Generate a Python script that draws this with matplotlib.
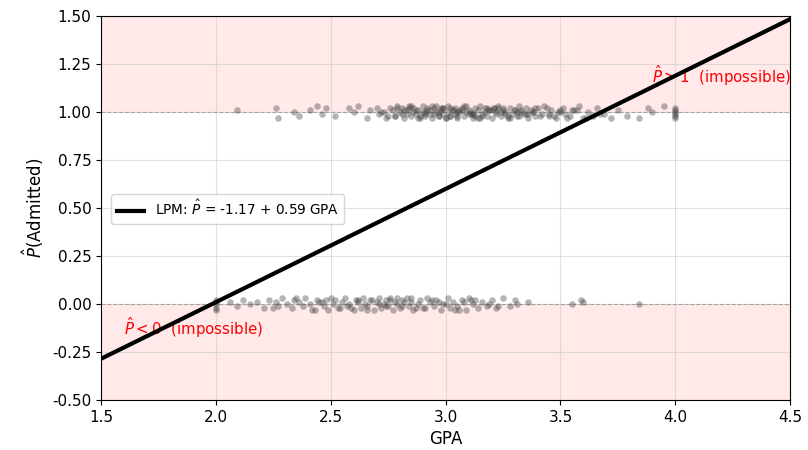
import matplotlib
matplotlib.use("Agg")
import matplotlib.pyplot as plt
import numpy as np

# Linear probability model coefficients
intercept = -1.17
slope = 0.59

# Admitted students (GPA, jittered plotted value)
adm_gpa = [2.09, 2.26, 2.27, 2.34, 2.36, 2.41, 2.44, 2.46, 2.48, 2.52,
           2.58, 2.60, 2.62, 2.66, 2.67, 2.70, 2.71, 2.73, 2.74, 2.76,
           2.77, 2.78, 2.79, 2.80, 2.81, 2.81, 2.82, 2.83, 2.84, 2.85,
           2.86, 2.86, 2.87, 2.88, 2.89, 2.90, 2.90, 2.91, 2.92, 2.93,
           2.93, 2.94, 2.95, 2.96, 2.96, 2.97, 2.98, 2.99, 2.99, 3.00,
           3.01, 3.01, 3.02, 3.03, 3.04, 3.04, 3.05, 3.06, 3.07, 3.07,
           3.08, 3.09, 3.10, 3.10, 3.11, 3.12, 3.13, 3.13, 3.14, 3.15,
           3.16, 3.17, 3.17, 3.18, 3.19, 3.20, 3.21, 3.22, 3.22, 3.23,
           3.24, 3.25, 3.26, 3.27, 3.28, 3.29, 3.30, 3.31, 3.32, 3.33,
           3.34, 3.35, 3.36, 3.37, 3.38, 3.39, 3.40, 3.42, 3.43, 3.45,
           3.46, 3.48, 3.49, 3.51, 3.52, 3.54, 3.56, 3.58, 3.60, 3.62,
           3.64, 3.66, 3.69, 3.72, 3.75, 3.79, 3.84, 3.88, 3.90, 3.95,
           4.00, 4.00, 4.00, 4.00, 4.00, 4.00, 2.72, 2.78, 2.84, 2.88,
           2.92, 2.95, 2.98, 3.02, 3.05, 3.08, 3.12, 3.15, 3.19, 3.23,
           3.27, 3.31, 3.35, 3.44, 3.53, 3.57, 2.85, 2.91, 2.97, 3.03,
           3.09, 3.14, 3.21, 3.26, 3.33, 3.41, 2.79, 2.83, 2.87, 2.89,
           2.94, 2.97, 3.00, 3.02, 3.06, 3.11, 3.16, 3.18, 3.24, 3.28,
           3.30, 3.36, 3.39, 3.47, 3.50, 3.55, 3.61, 3.67, 2.75, 2.82,
           2.91, 2.99, 3.05, 3.12, 3.20, 3.25, 3.32, 3.38, 3.45, 3.50]
adm_y = [1.01, 1.02, 0.97, 1.00, 0.98, 1.01, 1.03, 0.99, 1.02, 0.98,
         1.02, 1.00, 1.03, 0.97, 1.01, 1.02, 0.99, 1.00, 0.97, 1.02,
         1.01, 0.98, 1.03, 1.00, 0.99, 1.02, 0.97, 1.01, 1.03, 0.98,
         1.00, 1.02, 0.99, 1.01, 0.97, 1.03, 1.00, 0.98, 1.02, 1.01,
         0.99, 0.97, 1.02, 1.00, 1.03, 0.98, 1.01, 0.99, 1.02, 0.97,
         1.00, 1.03, 0.98, 1.01, 1.02, 0.99, 0.97, 1.00, 1.02, 1.01,
         0.98, 1.03, 0.99, 1.01, 1.00, 0.97, 1.02, 0.98, 1.01, 1.03,
         0.99, 1.00, 1.02, 0.98, 1.01, 0.97, 1.02, 1.00, 0.99, 1.03,
         0.98, 1.01, 1.00, 0.97, 1.02, 0.99, 1.01, 0.98, 1.03, 1.00,
         0.99, 1.02, 0.97, 1.01, 1.00, 0.98, 1.02, 0.99, 1.03, 0.98,
         1.01, 0.97, 1.00, 1.02, 0.99, 0.98, 1.01, 1.03, 0.97, 1.00,
         0.98, 1.02, 0.99, 0.97, 1.01, 0.98, 0.97, 1.02, 1.00, 1.03,
         0.98, 1.00, 1.02, 0.99, 1.01, 0.97, 1.00, 0.98, 1.02, 0.97,
         1.01, 0.99, 1.02, 0.98, 1.00, 1.03, 0.99, 0.97, 1.01, 1.02,
         0.98, 1.00, 0.99, 1.02, 0.97, 1.01, 1.03, 0.99, 0.98, 1.01,
         1.00, 0.97, 1.02, 0.99, 1.01, 0.98, 1.02, 0.99, 1.01, 0.98,
         1.03, 1.00, 0.97, 1.02, 1.01, 0.99, 0.98, 1.02, 1.00, 0.97,
         1.01, 0.99, 1.02, 0.98, 1.00, 1.01, 0.97, 0.99, 0.98, 1.01,
         1.00, 1.02, 0.98, 0.99, 1.01, 1.02, 0.98, 1.00, 0.99, 1.01]

# Not admitted students
rej_gpa = [2.00, 2.00, 2.00, 2.00, 2.00, 2.06, 2.09, 2.12, 2.15, 2.18,
           2.21, 2.23, 2.26, 2.27, 2.29, 2.31, 2.33, 2.34, 2.36, 2.38,
           2.39, 2.41, 2.42, 2.44, 2.45, 2.47, 2.48, 2.49, 2.51, 2.52,
           2.53, 2.55, 2.56, 2.57, 2.58, 2.60, 2.61, 2.62, 2.63, 2.64,
           2.65, 2.66, 2.68, 2.69, 2.70, 2.71, 2.72, 2.73, 2.74, 2.75,
           2.76, 2.77, 2.78, 2.79, 2.80, 2.81, 2.83, 2.84, 2.85, 2.86,
           2.88, 2.89, 2.90, 2.92, 2.93, 2.95, 2.96, 2.98, 2.99, 3.01,
           3.02, 3.03, 3.05, 3.07, 3.09, 3.10, 3.12, 3.14, 3.16, 3.18,
           3.20, 3.22, 3.25, 3.28, 3.31, 3.36, 3.55, 3.59, 3.60, 3.84,
           2.43, 2.50, 2.59, 2.67, 2.74, 2.79, 2.82, 2.87, 2.94, 3.00,
           3.04, 3.08, 3.13, 2.25, 2.35, 2.46, 2.54, 2.62, 2.66, 2.71,
           2.76, 2.81, 2.85, 2.91, 2.97, 3.06, 3.11, 3.19, 3.23, 3.30]
rej_y = [0.02, -0.02, 0.01, -0.03, 0.00, 0.01, -0.01, 0.02, 0.00, 0.01,
         -0.02, 0.02, 0.01, -0.01, 0.03, 0.00, -0.02, 0.02, 0.01, -0.01,
         0.03, 0.00, -0.03, 0.02, 0.01, -0.01, 0.02, -0.03, 0.00, 0.02,
         -0.02, 0.01, 0.03, -0.01, 0.00, -0.03, 0.02, 0.01, -0.02, 0.03,
         0.00, -0.01, 0.02, -0.03, 0.01, 0.03, -0.02, 0.00, 0.02, -0.01,
         0.03, -0.03, 0.01, 0.00, -0.02, 0.02, 0.03, -0.01, 0.01, -0.03,
         0.00, 0.02, -0.02, 0.03, 0.01, -0.01, 0.02, -0.03, 0.00, 0.03,
         -0.02, 0.01, -0.01, 0.02, -0.03, 0.03, 0.00, -0.02, 0.01, -0.01,
         0.02, -0.02, 0.03, -0.01, 0.00, 0.01, 0.00, 0.02, 0.01, 0.00,
         -0.03, 0.03, -0.02, 0.02, -0.01, 0.03, 0.01, -0.02, 0.02, 0.00,
         -0.03, 0.01, 0.02, -0.02, 0.03, 0.01, -0.02, 0.02, -0.03, 0.00,
         0.02, -0.01, 0.03, -0.02, 0.01, -0.03, 0.02, 0.00, -0.01, 0.02]

xlim = (1.5, 4.5)
ylim = (-0.5, 1.5)
xticks = [1.5, 2.0, 2.5, 3.0, 3.5, 4.0, 4.5]
yticks = [-0.5, -0.25, 0.0, 0.25, 0.5, 0.75, 1.0, 1.25, 1.5]

fig = plt.figure(figsize=(8.08, 4.5), dpi=100)
ax = fig.add_axes([0.125, 0.111, 0.853, 0.853])

ax.axhspan(1, ylim[1], color='red', alpha=0.085, lw=0, zorder=0)
ax.axhspan(ylim[0], 0, color='red', alpha=0.085, lw=0, zorder=0)
ax.axhline(0, color='gray', ls='--', lw=0.8, alpha=0.6, zorder=1)
ax.axhline(1, color='gray', ls='--', lw=0.8, alpha=0.6, zorder=1)

n = min(len(adm_gpa), len(adm_y))
ax.scatter(adm_gpa[:n], adm_y[:n], s=22, color='#444444', alpha=0.4, lw=0, zorder=2)
m = min(len(rej_gpa), len(rej_y))
ax.scatter(rej_gpa[:m], rej_y[:m], s=22, color='#444444', alpha=0.4, lw=0, zorder=2)

ax.text(1.6, -0.12, r'$\hat{P} < 0$  (impossible)', color='red', fontsize=10.8,
        va='center', ha='left', zorder=2)
ax.text(3.9, 1.19, r'$\hat{P} > 1$  (impossible)', color='red', fontsize=10.8,
        va='center', ha='left', zorder=2, clip_on=True)

xs = np.array(xlim)
ax.plot(xs, intercept + slope * xs, color='black', lw=3, zorder=3,
        label=r'LPM: $\hat{P}$ = -1.17 + 0.59 GPA')

ax.set_xlim(*xlim)
ax.set_ylim(*ylim)
ax.set_xticks(xticks)
ax.set_yticks(yticks)
ax.set_xticklabels([f'{v:.1f}' for v in xticks])
ax.set_yticklabels([f'{v:.2f}' for v in yticks])
ax.tick_params(labelsize=11)
ax.grid(True, color='#cccccc', lw=0.8, alpha=0.6, zorder=0)
ax.set_axisbelow(True)
ax.set_xlabel('GPA', fontsize=12)
ax.set_ylabel(r'$\hat{P}$(Admitted)', fontsize=12)
ax.legend(loc='upper left', bbox_to_anchor=(0.005, 0.555), fontsize=9.8)

fig.savefig('out.png', dpi=100)
